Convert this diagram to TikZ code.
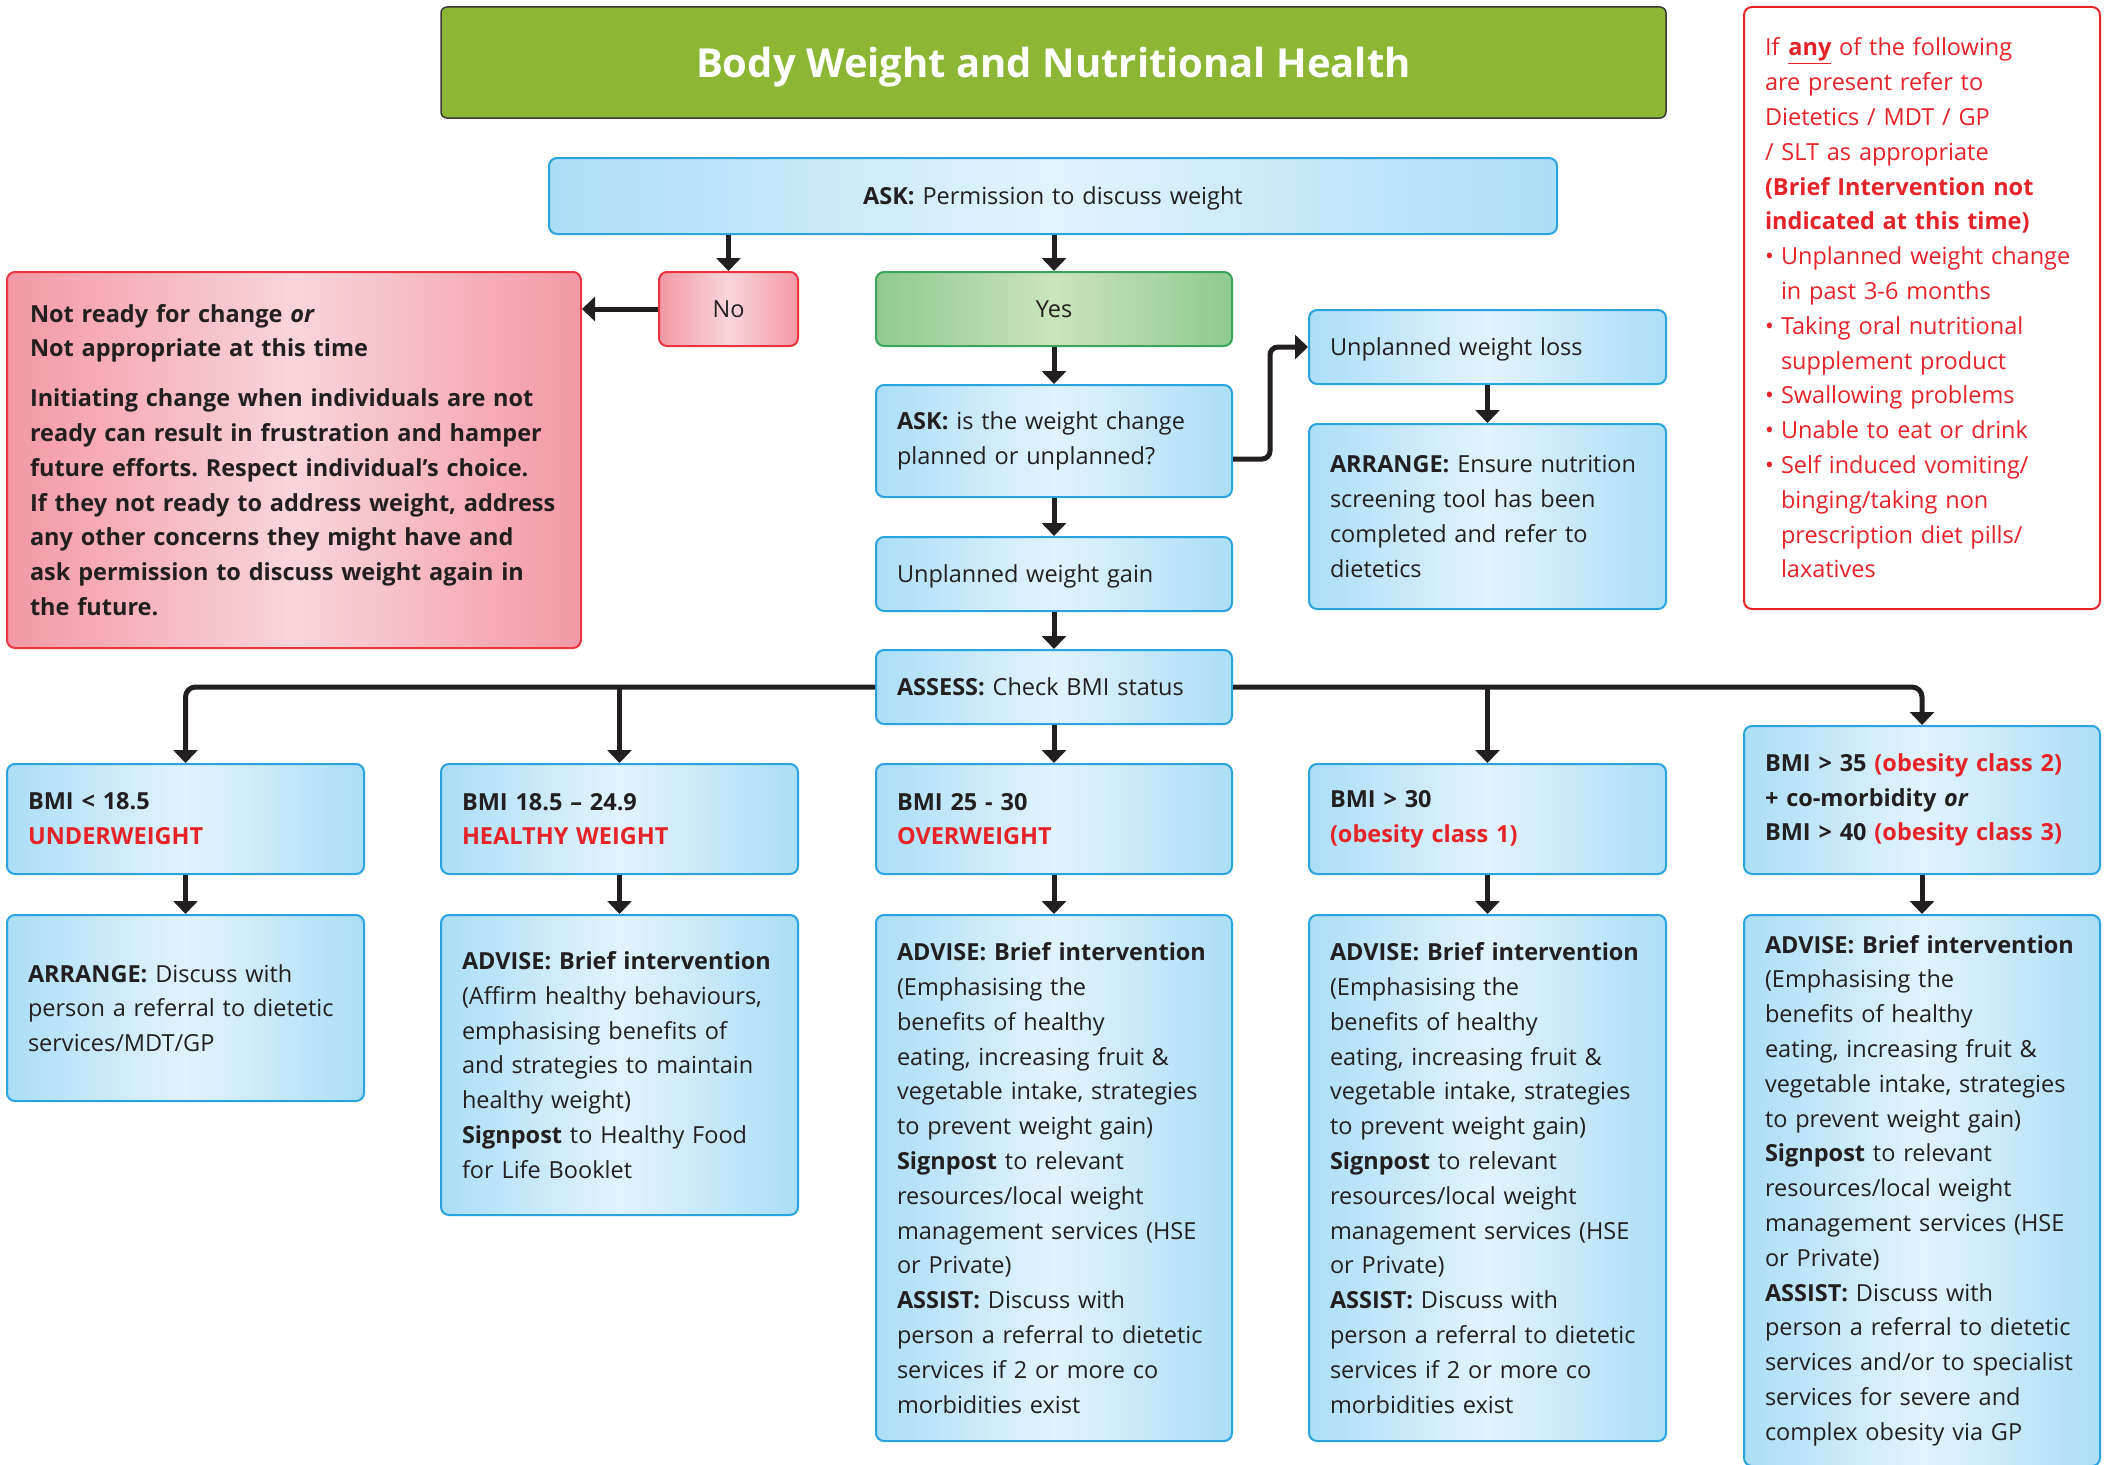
\documentclass[tikz,border=0pt]{standalone}
\usepackage{fontspec}
\setmainfont{Open Sans}
\usetikzlibrary{arrows.meta}
\definecolor{bluelt}{HTML}{E1F3FC}
\definecolor{bluedk}{HTML}{ABDEF7}
\definecolor{blueln}{HTML}{2AA4DF}
\definecolor{pinklt}{HTML}{F9D5DA}
\definecolor{pinkdk}{HTML}{F398A6}
\definecolor{pinkln}{HTML}{EC3340}
\definecolor{greenlt}{HTML}{CBE4BC}
\definecolor{greendk}{HTML}{8ECB8F}
\definecolor{greenln}{HTML}{3AA45B}
\definecolor{titlegreen}{HTML}{8DB634}
\definecolor{titleln}{HTML}{3A3A3A}
\definecolor{redtxt}{HTML}{E52329}
\definecolor{ink}{HTML}{231F20}
\newcommand{\bodyfont}{\fontsize{23.5}{34.8}\selectfont\hyphenpenalty=10000\frenchspacing}
\newcommand{\red}[1]{\textcolor{redtxt}{#1}}
\tikzset{
  box/.style={rounded corners=8pt, line width=2pt, inner xsep=21pt, inner ysep=0pt,
    font=\bodyfont, text=ink, align=left},
  oneline/.style={text depth=0pt},
  bluebox/.style={box, draw=blueln, left color=bluedk, right color=bluedk, middle color=bluelt},
  pinkbox/.style={box, draw=pinkln, left color=pinkdk, right color=pinkdk, middle color=pinklt},
  greenbox/.style={box, draw=greenln, left color=greendk, right color=greendk, middle color=greenlt},
  notebox/.style={box, draw=redtxt, fill=white, text=redtxt},
  titlebox/.style={rounded corners=6pt, line width=1.5pt, draw=titleln, fill=titlegreen,
    text=white, font=\bfseries\fontsize{40}{48}\selectfont, align=center, inner sep=0pt, text depth=0pt},
  conn/.style={draw=ink, line width=5pt, -{Triangle[width=24pt,length=13pt]}},
}
\begin{document}
\begin{tikzpicture}[x=1pt,y=-1pt]
\useasboundingbox (0,0) rectangle (2109,1464);
\clip (0,0) rectangle (2109,1464);

\node[titlebox, minimum width=1225pt, minimum height=111pt] (title) at (1053.5,62.5)
  {Body Weight and Nutritional Health};

\node[bluebox, oneline, align=center, minimum width=1008pt, text width=966pt, minimum height=76pt] (ask1) at (1053,196)
  {\textbf{ASK:} Permission to discuss weight};

\node[pinkbox, oneline, align=center, minimum width=139pt, text width=97pt, minimum height=74pt] (no) at (728.5,309) {No};
\node[greenbox, oneline, align=center, minimum width=356pt, text width=314pt, minimum height=74pt] (yes) at (1054,309) {Yes};

\node[pinkbox, inner xsep=23pt, minimum width=574pt, text width=528pt, minimum height=376pt] (notready) at (294,460)
  {\bfseries Not ready for change \textit{or}\\
   Not appropriate at this time\\[15pt]
   Initiating change when individuals are not\\
   ready can result in frustration and hamper\\
   future efforts. Respect individual’s choice.\\
   If they not ready to address weight, address\\
   any other concerns they might have and\\
   ask permission to discuss weight again in\\
   the future.};

\node[bluebox, minimum width=356pt, text width=314pt, minimum height=112pt] (ask2) at (1054,441)
  {\textbf{ASK:} is the weight change\\planned or unplanned?};

\node[bluebox, oneline, minimum width=357pt, text width=315pt, minimum height=74pt] (loss) at (1487.5,347)
  {Unplanned weight loss};

\node[bluebox, minimum width=357pt, text width=315pt, minimum height=185pt] (arrange1) at (1487.5,516.5)
  {\textbf{ARRANGE:} Ensure nutrition\\screening tool has been\\completed and refer to\\dietetics};

\node[bluebox, oneline, minimum width=356pt, text width=314pt, minimum height=74pt] (gain) at (1054,574)
  {Unplanned weight gain};

\node[bluebox, oneline, minimum width=356pt, text width=314pt, minimum height=74pt] (assess) at (1054,687)
  {\textbf{ASSESS:} Check BMI status};

\node[notebox, minimum width=356pt, text width=314pt, minimum height=602pt] (note) at (1922,308)
  {If \textbf{\underline{any}} of the following\\
   are present refer to\\
   Dietetics / MDT / GP\\
   / SLT as appropriate\\
   \textbf{(Brief Intervention not}\\
   \textbf{indicated at this time)}\\
   \makebox[16pt][l]{•}Unplanned weight change\\
   \hspace*{16pt}in past 3-6 months\\
   \makebox[16pt][l]{•}Taking oral nutritional\\
   \hspace*{16pt}supplement product\\
   \makebox[16pt][l]{•}Swallowing problems\\
   \makebox[16pt][l]{•}Unable to eat or drink\\
   \makebox[16pt][l]{•}Self induced vomiting/\\
   \hspace*{16pt}binging/taking non\\
   \hspace*{16pt}prescription diet pills/\\
   \hspace*{16pt}laxatives};

% BMI row
\node[bluebox, minimum width=357pt, text width=315pt, minimum height=110pt] (bmi1) at (185.5,819)
  {\bfseries BMI < 18.5\\\red{UNDERWEIGHT}};
\node[bluebox, minimum width=357pt, text width=315pt, minimum height=110pt] (bmi2) at (619.5,819)
  {\bfseries BMI 18.5 – 24.9\\\red{HEALTHY WEIGHT}};
\node[bluebox, minimum width=356pt, text width=314pt, minimum height=110pt] (bmi3) at (1054,819)
  {\bfseries BMI 25 - 30\\\red{OVERWEIGHT}};
\node[bluebox, minimum width=357pt, text width=315pt, minimum height=110pt] (bmi4) at (1487.5,819)
  {\bfseries BMI > 30\\\red{(obesity class 1)}};
\node[bluebox, minimum width=356pt, text width=314pt, minimum height=148pt] (bmi5) at (1922,800)
  {\bfseries BMI > 35 \red{(obesity class 2)}\\
   + co-morbidity \textit{or}\\
   BMI > 40 \red{(obesity class 3)}};

% bottom row
\node[bluebox, minimum width=357pt, text width=315pt, minimum height=186pt] (adv1) at (185.5,1008)
  {\textbf{ARRANGE:} Discuss with\\person a referral to dietetic\\services/MDT/GP};
\node[bluebox, minimum width=357pt, text width=315pt, minimum height=300pt] (adv2) at (619.5,1065)
  {\textbf{ADVISE: Brief intervention}\\
   (Affirm healthy behaviours,\\
   emphasising benefits of\\
   and strategies to maintain\\
   healthy weight)\\
   \textbf{Signpost} to Healthy Food\\
   for Life Booklet};
\node[bluebox, minimum width=356pt, text width=314pt, minimum height=526pt] (adv3) at (1054,1178)
  {\textbf{ADVISE: Brief intervention}\\
   (Emphasising the\\
   benefits of healthy\\
   eating, increasing fruit \&\\
   vegetable intake, strategies\\
   to prevent weight gain)\\
   \textbf{Signpost} to relevant\\
   resources/local weight\\
   management services (HSE\\
   or Private)\\
   \textbf{ASSIST:} Discuss with\\
   person a referral to dietetic\\
   services if 2 or more co\\
   morbidities exist};
\node[bluebox, minimum width=357pt, text width=315pt, minimum height=526pt] (adv4) at (1487.5,1178)
  {\textbf{ADVISE: Brief intervention}\\
   (Emphasising the\\
   benefits of healthy\\
   eating, increasing fruit \&\\
   vegetable intake, strategies\\
   to prevent weight gain)\\
   \textbf{Signpost} to relevant\\
   resources/local weight\\
   management services (HSE\\
   or Private)\\
   \textbf{ASSIST:} Discuss with\\
   person a referral to dietetic\\
   services if 2 or more co\\
   morbidities exist};
\node[bluebox, minimum width=356pt, text width=314pt, minimum height=551pt] (adv5) at (1922,1190.5)
  {\textbf{ADVISE: Brief intervention}\\
   (Emphasising the\\
   benefits of healthy\\
   eating, increasing fruit \&\\
   vegetable intake, strategies\\
   to prevent weight gain)\\
   \textbf{Signpost} to relevant\\
   resources/local weight\\
   management services (HSE\\
   or Private)\\
   \textbf{ASSIST:} Discuss with\\
   person a referral to dietetic\\
   services and/or to specialist\\
   services for severe and\\
   complex obesity via GP};

% connectors
\draw[conn] (ask1.south -| no.north) -- (no.north);
\draw[conn] (ask1.south -| yes.north) -- (yes.north);
\draw[conn] (no.west) -- (no.west -| notready.east);
\draw[conn] (yes.south) -- (ask2.north);
\draw[conn, rounded corners=8pt] ([yshift=-18pt]ask2.east) -- ++(37,0) |- (loss.west);
\draw[conn] (loss.south) -- (arrange1.north);
\draw[conn] (ask2.south) -- (gain.north);
\draw[conn] (gain.south) -- (assess.north);
\draw[conn, rounded corners=10pt] (assess.west) -| (bmi1.north);
\draw[conn, rounded corners=10pt] (assess.east) -| (bmi5.north);
\draw[conn] (assess.west -| bmi2.north) -- (bmi2.north);
\draw[conn] (assess.east -| bmi4.north) -- (bmi4.north);
\draw[conn] (assess.south) -- (bmi3.north);
\draw[conn] (bmi1.south) -- (adv1.north);
\draw[conn] (bmi2.south) -- (adv2.north);
\draw[conn] (bmi3.south) -- (adv3.north);
\draw[conn] (bmi4.south) -- (adv4.north);
\draw[conn] (bmi5.south) -- (adv5.north);
\end{tikzpicture}
\end{document}
